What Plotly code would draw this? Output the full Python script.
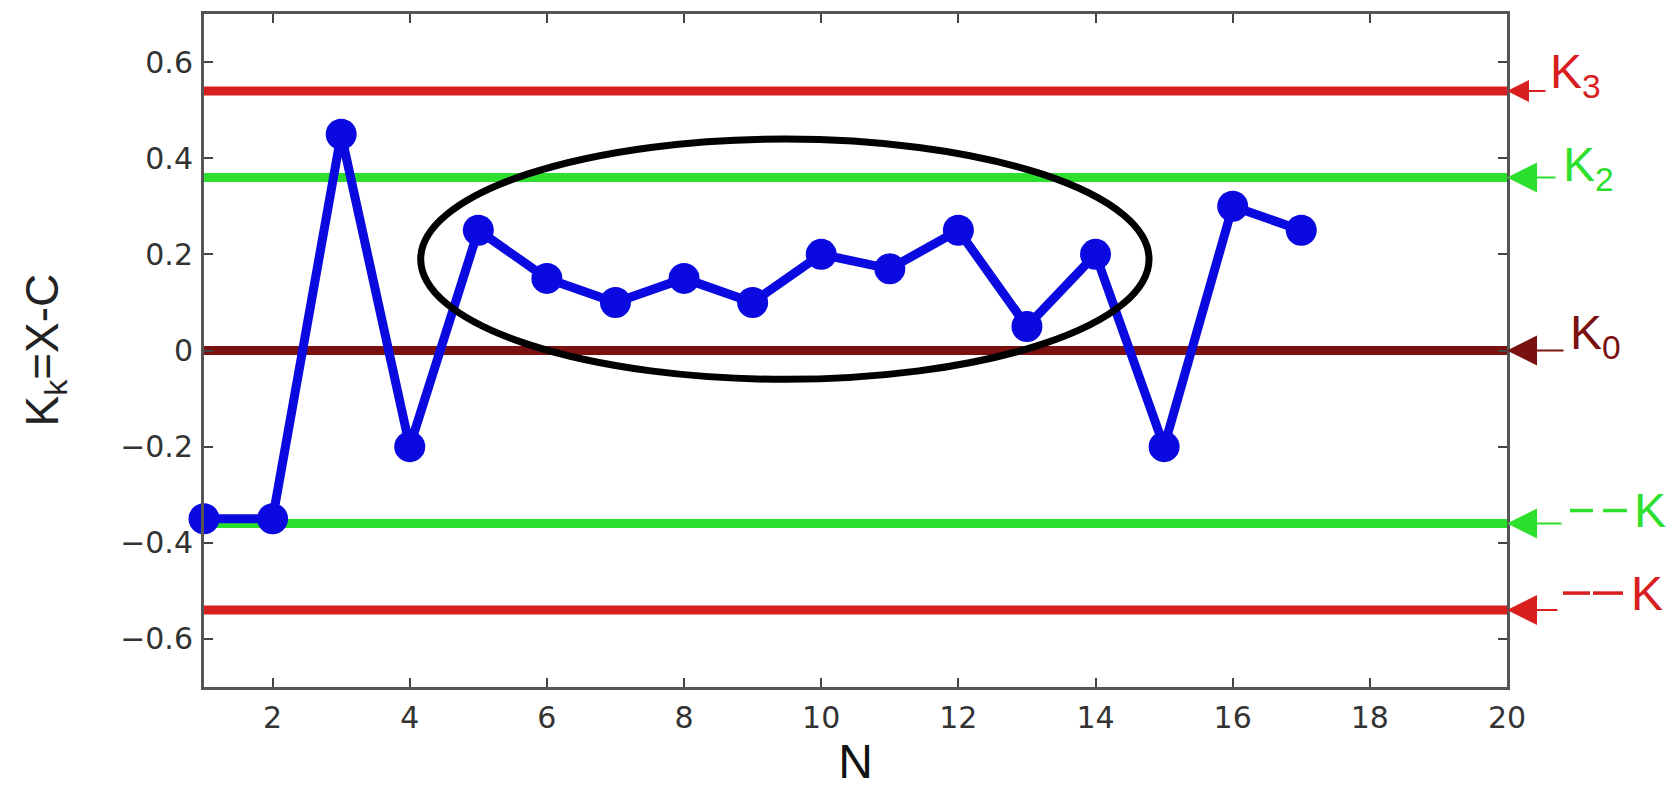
import plotly.graph_objects as go

N = list(range(1, 18))
K = [-0.35, -0.35, 0.45, -0.2, 0.25, 0.15, 0.1, 0.15, 0.1, 0.2, 0.17, 0.25, 0.05, 0.2, -0.2, 0.3, 0.25]

level_values = [0.54, 0.36, 0.0, -0.36, -0.54]
level_colors = ["#d81e1e", "#2ee02e", "#7a1010", "#2ee02e", "#d81e1e"]
level_labels = ["K<sub>3</sub>", "K<sub>2</sub>", "K<sub>0</sub>", "K", "K"]

ellipse_x = [4.16, 14.78]
ellipse_y = [-0.06, 0.44]

x_ticks = [2, 4, 6, 8, 10, 12, 14, 16, 18, 20]
y_ticks = [-0.6, -0.4, -0.2, 0, 0.2, 0.4, 0.6]
y_tick_text = ["−0.6", "−0.4", "−0.2", "0", "0.2", "0.4", "0.6"]

Y_RANGE = [-0.7, 0.7]

# label placement (pixel offsets from the right axis)
label_dx = [41, 54, 61, 125, 122]
label_dy = [16, 9, 15, 13, 17]
arrow_len = [40, 50, 58, 56, 52]
arrow_size = [2.2, 3, 3, 3, 3]
dash_segments = [[], [], [], [(63, 86), (96, 120)], [(56, 83), (86, 116)]]

fig = go.Figure()

for v, c in zip(level_values, level_colors):
    fig.add_trace(go.Scatter(x=[1, 20], y=[v, v], mode="lines",
                             line=dict(color=c, width=9), showlegend=False, hoverinfo="skip"))

fig.add_shape(type="circle", xref="x", yref="y",
              x0=ellipse_x[0], x1=ellipse_x[1], y0=ellipse_y[0], y1=ellipse_y[1],
              line=dict(color="black", width=7), layer="above")

fig.add_trace(go.Scatter(x=N, y=K, mode="lines+markers",
                         line=dict(color="#0a0ae0", width=9),
                         marker=dict(color="#0a0ae0", size=31),
                         showlegend=False, cliponaxis=False))

for v, c, t, dx, dy, al, asz, segs in zip(level_values, level_colors, level_labels, label_dx,
                                          label_dy, arrow_len, arrow_size, dash_segments):
    fig.add_annotation(x=20, y=v, xref="x", yref="y", text=" ", showarrow=True,
                       ax=al, ay=0, arrowhead=2, arrowsize=asz, arrowwidth=2, arrowcolor=c,
                       font=dict(size=1), standoff=0)
    fig.add_annotation(x=20, y=v, xref="x", yref="y", text=t, showarrow=False,
                       xanchor="left", yanchor="middle", xshift=dx, yshift=dy,
                       font=dict(color=c, size=48, family="Liberation Sans, Arial"))
    py = (v - Y_RANGE[0]) / (Y_RANGE[1] - Y_RANGE[0])
    for s0, s1 in segs:
        fig.add_shape(type="line", xref="paper", yref="paper",
                      xsizemode="pixel", ysizemode="pixel", xanchor=1, yanchor=py,
                      x0=s0, x1=s1, y0=dy, y1=dy, line=dict(color=c, width=3.5))

# y-axis title
fig.add_annotation(xref="paper", yref="paper", x=-0.122, y=0.5, showarrow=False,
                   text="K<sub>k</sub>=X-C", textangle=-90, xanchor="center", yanchor="middle",
                   font=dict(size=46, color="#222222", family="Liberation Sans, Arial"))

axis_common = dict(showline=True, linecolor="#555555", linewidth=3, mirror="allticks",
                   ticks="inside", ticklen=9, tickwidth=2, tickcolor="#444444",
                   showgrid=False, zeroline=False,
                   tickfont=dict(size=30, color="#333333", family="DejaVu Sans"))

fig.update_xaxes(range=[1, 20], tickvals=x_ticks, ticklabelstandoff=2, **axis_common,
                 title=dict(text="N", font=dict(size=48, color="#111111", family="Liberation Sans, Arial"),
                            standoff=0))
fig.update_yaxes(range=Y_RANGE, tickvals=y_ticks, ticktext=y_tick_text,
                 ticklabelstandoff=2, **axis_common)

fig.update_layout(width=1676, height=789, plot_bgcolor="white", paper_bgcolor="white",
                  margin=dict(l=196, r=177, t=6, b=110, autoexpand=False))

fig.write_html("out.html")
